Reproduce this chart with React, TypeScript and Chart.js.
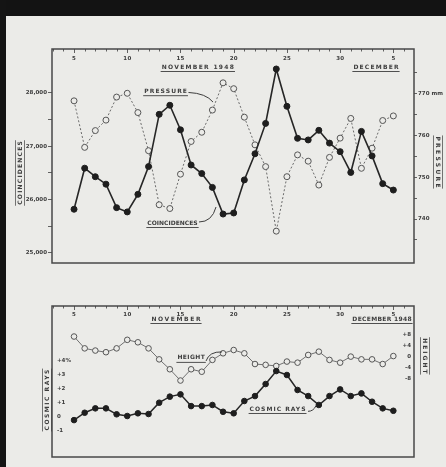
import React, { useEffect, useRef } from 'react';
import { Chart, registerables } from 'chart.js';

Chart.register(...registerables);

// ---- data (Nov 5 1948 .. Dec 5 1948, daily) ----
const days = [5, 6, 7, 8, 9, 10, 11, 12, 13, 14, 15, 16, 17, 18, 19, 20, 21, 22, 23, 24, 25, 26, 27, 28, 29, 30, 1, 2, 3, 4, 5];
const coincidences = [25820, 26590, 26430, 26290, 25850, 25770, 26100, 26620, 27600, 27770, 27310, 26650, 26490, 26230, 25730, 25750, 26370, 26860, 27430, 28450, 27750, 27150, 27120, 27300, 27060, 26900, 26510, 27280, 26820, 26300, 26180];
const pressure = [768.2, 757.1, 761.1, 763.6, 769.1, 770.0, 765.4, 756.3, 743.4, 742.5, 750.7, 758.5, 760.7, 766.0, 772.5, 771.1, 764.3, 757.7, 752.5, 737.1, 750.1, 755.3, 753.8, 748.1, 754.7, 759.3, 764.0, 752.1, 756.9, 763.5, 764.6];
const cosmicRays = [-0.24, 0.28, 0.59, 0.59, 0.17, 0.05, 0.24, 0.19, 0.99, 1.42, 1.58, 0.75, 0.75, 0.83, 0.35, 0.24, 1.11, 1.46, 2.31, 3.23, 2.95, 1.89, 1.46, 0.83, 1.46, 1.93, 1.46, 1.65, 1.06, 0.59, 0.42];
const height = [7.3, 3.0, 2.2, 1.6, 3.0, 6.1, 5.2, 3.0, -1.0, -4.6, -8.7, -4.6, -5.5, -1.2, 1.2, 2.4, 1.2, -2.7, -3.0, -3.4, -1.8, -2.2, 0.6, 1.8, -1.2, -2.2, 0.0, -1.0, -1.0, -2.7, 0.2];

const coincTickValues = [25000, 25500, 26000, 26500, 27000, 27500, 28000];
const coincTickLabels = ['25,000', '', '26,000', '', '27,000', '', '28,000'];
const pressureTickValues = [735, 740, 745, 750, 755, 760, 765, 770, 775];
const pressureTickLabels = ['', '740', '', '750', '', '760', '', '770 mm', ''];
const cosmicTickValues = [-1, 0, 1, 2, 3, 4];
const cosmicTickLabels = ['-1', '0', '+1', '+2', '+3', '+4%'];
const heightTickValues = [-8, -4, 0, 4, 8];
const heightTickLabels = ['-8', '-4', '0', '+4', '+8'];

// ---- styles ----
const PAPER = '#ebebe8';
const INK = '#3d3d3d';
const FONT_FAMILY = '"DejaVu Sans", "Liberation Sans", sans-serif';

const pts = (vals: number[]) => vals.map((v, i) => ({ x: i, y: v }));
const fixedTicks = (values: number[]) => (scale: any) => {
  scale.ticks = values.map((v) => ({ value: v }));
};
const labelFrom = (values: number[], labels: string[]) => (v: any) => {
  const k = values.indexOf(Number(v));
  return k >= 0 ? labels[k] : '';
};

function spacedText(ctx: CanvasRenderingContext2D, text: string, x: number, y: number, spacing: number, align: string) {
  (ctx as any).letterSpacing = `${spacing}px`;
  const w = ctx.measureText(text).width - spacing;
  const left = align === 'center' ? x - w / 2 : align === 'right' ? x - w : x;
  ctx.textAlign = 'left';
  ctx.fillText(text, left, y);
  (ctx as any).letterSpacing = '0px';
  return { left, right: left + w };
}

const decorPlugin = {
  id: 'decor',
  afterDraw(chart: any, _a: any, o: any) {
    const { ctx, chartArea: a, scales } = chart;
    const xs = scales.x;
    ctx.save();
    ctx.textBaseline = 'middle';
    // frame
    ctx.strokeStyle = '#484848';
    ctx.lineWidth = o.frameWidth;
    ctx.strokeRect(a.left, a.top, a.right - a.left, a.bottom - a.top);
    // day ticks along the top edge
    ctx.lineWidth = 0.8;
    ctx.strokeStyle = INK;
    for (let i = Math.ceil(xs.min); i <= Math.floor(xs.max); i++) {
      const px = Math.round(xs.getPixelForValue(i)) + 0.5;
      ctx.beginPath();
      ctx.moveTo(px, a.top);
      ctx.lineTo(px, a.top + (i % 5 === 0 ? 4 : 2.5));
      ctx.stroke();
    }
    ctx.fillStyle = INK;
    ctx.font = `bold 5.5px ${FONT_FAMILY}`;
    days.forEach((d, i) => {
      if (i % 5 === 0) spacedText(ctx, String(d), xs.getPixelForValue(i), a.top + o.dayLabelDy, 0.3, 'center');
    });
    // headers and labels (underlined)
    ctx.font = `bold 6px ${FONT_FAMILY}`;
    ctx.lineWidth = 0.9;
    const under = (r: any, y: number) => {
      ctx.beginPath();
      ctx.moveTo(r.left - 1, y + 4.5);
      ctx.lineTo(r.right + 1, y + 4.5);
      ctx.stroke();
    };
    (o.headers || []).forEach((h: any) => {
      const y = a.top + h.dy;
      under(spacedText(ctx, h.text, xs.getPixelForValue(h.x), y, h.spacing, 'center'), y);
    });
    (o.labels || []).forEach((l: any) => {
      const y = scales[l.axis].getPixelForValue(l.y);
      under(spacedText(ctx, l.text, xs.getPixelForValue(l.x), y, l.spacing, 'center'), y);
    });
    // leader lines
    ctx.lineWidth = 1;
    (o.leaders || []).forEach((d: any) => {
      const ys = scales[d.axis];
      ctx.beginPath();
      ctx.moveTo(xs.getPixelForValue(d.from[0]), ys.getPixelForValue(d.from[1]));
      ctx.quadraticCurveTo(xs.getPixelForValue(d.ctrl[0]), ys.getPixelForValue(d.ctrl[1]), xs.getPixelForValue(d.to[0]), ys.getPixelForValue(d.to[1]));
      ctx.stroke();
    });
    // vertical axis titles
    (o.titles || []).forEach((t: any) => {
      const x = t.side === 'left' ? a.left - t.dx : a.right + t.dx;
      const y = scales[t.axis].getPixelForValue(t.y);
      ctx.save();
      ctx.translate(x, y);
      ctx.rotate(t.side === 'left' ? -Math.PI / 2 : Math.PI / 2);
      const r = spacedText(ctx, t.text, 0, 0, t.spacing, 'center');
      ctx.lineWidth = 0.7;
      ctx.beginPath();
      ctx.moveTo(r.left - 1, -4.5);
      ctx.lineTo(r.right + 1, -4.5);
      ctx.moveTo(r.left - 1, 4.5);
      ctx.lineTo(r.right + 1, 4.5);
      ctx.stroke();
      ctx.restore();
    });
    ctx.restore();
  },
};

const tickFont = { family: FONT_FAMILY, size: 5.5, weight: 'bold' as const };

function topConfig(): any {
  return {
    type: 'line',
    data: {
      datasets: [
        {
          label: 'Coincidences',
          data: pts(coincidences),
          yAxisID: 'yC',
          borderColor: '#262626',
          borderWidth: 1.6,
          pointRadius: 3,
          pointBackgroundColor: '#1e1e1e',
          pointBorderColor: '#1e1e1e',
          pointBorderWidth: 1,
        },
        {
          label: 'Pressure',
          data: pts(pressure),
          yAxisID: 'yP',
          borderColor: '#6a6a6a',
          borderWidth: 1,
          borderDash: [2, 2],
          pointRadius: 3,
          pointBackgroundColor: PAPER,
          pointBorderColor: '#555',
          pointBorderWidth: 1,
        },
      ],
    },
    options: {
      responsive: false,
      animation: false,
      events: [],
      layout: { padding: { top: 49, bottom: 27, left: 0, right: 0 } },
      plugins: {
        legend: { display: false },
        tooltip: { enabled: false },
        decor: {
          frameWidth: 1.5,
          dayLabelDy: 10,
          headers: [
            { text: 'NOVEMBER 1948', x: 11.63, dy: 18, spacing: 1.3 },
            { text: 'DECEMBER', x: 28.37, dy: 18, spacing: 1.2 },
          ],
          labels: [
            { text: 'PRESSURE', x: 8.6, y: 770.5, axis: 'yP', spacing: 1.1 },
            { text: 'COINCIDENCES', x: 9.25, y: 25562, axis: 'yC', spacing: 0 },
          ],
          leaders: [
            { axis: 'yP', from: [10.75, 770.2], ctrl: [12.4, 770.0], to: [13.06, 767.9] },
            { axis: 'yC', from: [11.74, 25581], ctrl: [12.96, 25581], to: [13.34, 25862] },
          ],
          titles: [
            { text: 'COINCIDENCES', side: 'left', dx: 32, axis: 'yC', y: 26500, spacing: 1.2 },
            { text: 'PRESSURE', side: 'right', dx: 24, axis: 'yP', y: 753.6, spacing: 2.3 },
          ],
        },
      },
      scales: {
        x: { type: 'linear', min: -2.07, max: 31.94, display: false },
        yC: {
          position: 'left',
          min: 24812,
          max: 28825,
          afterBuildTicks: fixedTicks(coincTickValues),
          afterFit: (s: any) => { s.width = 52; },
          grid: { drawOnChartArea: false, drawTicks: true, tickLength: 4, color: INK, lineWidth: 0.8 },
          border: { display: false },
          ticks: { autoSkip: false, padding: 1, color: INK, font: tickFont, callback: labelFrom(coincTickValues, coincTickLabels) },
        },
        yP: {
          position: 'right',
          min: 729.5,
          max: 780.57,
          afterBuildTicks: fixedTicks(pressureTickValues),
          afterFit: (s: any) => { s.width = 32; },
          grid: { drawOnChartArea: false, drawTicks: true, tickLength: 3, color: INK, lineWidth: 0.8 },
          border: { display: false },
          ticks: { autoSkip: false, padding: 1, color: INK, font: tickFont, callback: labelFrom(pressureTickValues, pressureTickLabels) },
        },
      },
    },
    plugins: [decorPlugin],
  };
}

function bottomConfig(): any {
  return {
    type: 'line',
    data: {
      datasets: [
        {
          label: 'Cosmic rays',
          data: pts(cosmicRays),
          yAxisID: 'yR',
          borderColor: '#262626',
          borderWidth: 1.5,
          pointRadius: 2.8,
          pointBackgroundColor: '#1e1e1e',
          pointBorderColor: '#1e1e1e',
          pointBorderWidth: 1,
        },
        {
          label: 'Height',
          data: pts(height),
          yAxisID: 'yH',
          borderColor: '#707070',
          borderWidth: 1,
          pointRadius: 2.8,
          pointBackgroundColor: PAPER,
          pointBorderColor: '#555',
          pointBorderWidth: 1,
        },
      ],
    },
    options: {
      responsive: false,
      animation: false,
      events: [],
      layout: { padding: { top: 16, bottom: 10, left: 0, right: 0 } },
      plugins: {
        legend: { display: false },
        tooltip: { enabled: false },
        decor: {
          frameWidth: 1.5,
          dayLabelDy: 9,
          headers: [
            { text: 'NOVEMBER', x: 9.58, dy: 13, spacing: 1.6 },
            { text: 'DECEMBER 1948', x: 28.93, dy: 13, spacing: 0.3 },
          ],
          labels: [
            { text: 'HEIGHT', x: 11.0, y: -0.47, axis: 'yH', spacing: 0.4 },
            { text: 'COSMIC RAYS', x: 19.12, y: 0.545, axis: 'yR', spacing: 1.0 },
          ],
          leaders: [
            { axis: 'yH', from: [12.4, -1.6], ctrl: [12.7, 1.9], to: [13.9, 1.7] },
            { axis: 'yR', from: [21.98, 0.38], ctrl: [22.5, 0.38], to: [22.73, 0.78] },
          ],
          titles: [
            { text: 'COSMIC RAYS', side: 'left', dx: 5, axis: 'yR', y: 1.18, spacing: 1.5 },
            { text: 'HEIGHT', side: 'right', dx: 11, axis: 'yH', y: 0.25, spacing: 2.0 },
          ],
        },
      },
      scales: {
        x: { type: 'linear', min: -2.07, max: 31.94, display: false },
        yR: {
          position: 'left',
          min: -2.85,
          max: 7.83,
          afterBuildTicks: fixedTicks(cosmicTickValues),
          afterFit: (s: any) => { s.width = 52; },
          grid: { drawOnChartArea: false, drawTicks: false },
          border: { display: false },
          ticks: { mirror: true, autoSkip: false, padding: 5, color: INK, font: tickFont, callback: labelFrom(cosmicTickValues, cosmicTickLabels) },
        },
        yH: {
          position: 'right',
          min: -36.5,
          max: 18.4,
          afterBuildTicks: fixedTicks(heightTickValues),
          afterFit: (s: any) => { s.width = 32; },
          grid: { drawOnChartArea: false, drawTicks: false },
          border: { display: false },
          ticks: { mirror: true, autoSkip: false, padding: -3, color: INK, font: tickFont, callback: labelFrom(heightTickValues, heightTickLabels) },
        },
      },
    },
    plugins: [decorPlugin],
  };
}

function ChartCanvas({ make, top, h }: { make: () => any; top: number; h: number }) {
  const ref = useRef<HTMLCanvasElement | null>(null);
  useEffect(() => {
    if (!ref.current) return;
    const chart = new Chart(ref.current, make());
    return () => chart.destroy();
  }, [make]);
  return (
    <canvas
      ref={ref}
      width={446}
      height={h}
      style={{ position: 'absolute', left: 0, top, width: 446, height: h, filter: 'blur(0.45px)' }}
    />
  );
}

export default function App() {
  return (
    <div style={{ position: 'fixed', left: 0, top: 0, width: 446, height: 467, background: PAPER, overflow: 'hidden' }}>
      <div style={{ position: 'absolute', left: 0, top: 0, width: 446, height: 16, background: '#131313' }} />
      <div style={{ position: 'absolute', left: 0, top: 0, width: 6, height: 467, background: '#141414' }} />
      <ChartCanvas make={topConfig} top={0} h={290} />
      <ChartCanvas make={bottomConfig} top={290} h={177} />
    </div>
  );
}
